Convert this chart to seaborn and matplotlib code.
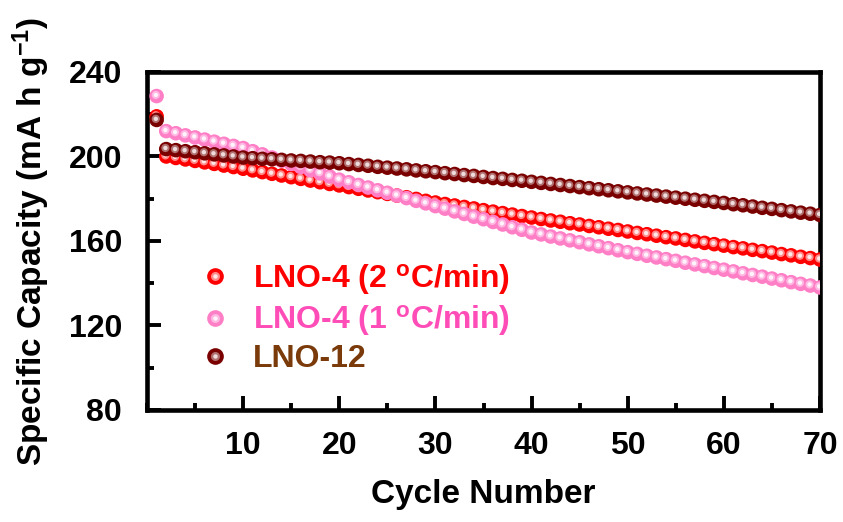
import matplotlib
matplotlib.use("Agg")
import matplotlib.pyplot as plt
import matplotlib.transforms as mtransforms
import seaborn as sns
import pandas as pd
from matplotlib.lines import Line2D
from matplotlib.legend_handler import HandlerTuple
from matplotlib.ticker import MultipleLocator

cycles = list(range(1, 71))

# LNO-4 (2 oC/min)
cap_lno4_2 = [219.0, 200.0,
              199.3, 198.6, 197.9, 197.2, 196.5, 195.7, 195.0, 194.2,
              193.4, 192.6, 191.8, 191.0, 190.2, 189.4, 188.6, 187.8, 187.0, 186.3,
              185.5, 184.7, 183.9, 183.1, 182.3, 181.5, 180.7, 179.9, 179.0, 178.2,
              177.5, 176.8, 176.1, 175.4, 174.6, 173.9, 173.2, 172.5, 171.8, 171.1,
              170.4, 169.7, 169.1, 168.4, 167.8, 167.1, 166.5, 165.8, 165.2, 164.5,
              163.8, 163.2, 162.5, 161.8, 161.2, 160.5, 159.8, 159.1, 158.5, 157.8,
              157.1, 156.5, 155.8, 155.2, 154.5, 153.8, 153.2, 152.5, 151.9, 151.2]

# LNO-4 (1 oC/min)
cap_lno4_1 = [228.6, 212.0,
              211.0, 210.0, 209.0, 208.0, 207.0, 206.0, 205.0, 204.0,
              202.5, 201.0, 199.5, 198.0, 196.5, 195.0, 193.5, 192.0, 190.5, 189.0,
              187.8, 186.5, 185.3, 184.0, 182.8, 181.5, 180.3, 179.0, 177.8, 176.5,
              175.3, 174.0, 172.8, 171.5, 170.3, 169.0, 167.8, 166.5, 165.3, 164.0,
              163.1, 162.1, 161.2, 160.3, 159.4, 158.4, 157.5, 156.6, 155.6, 154.7,
              153.9, 153.0, 152.2, 151.4, 150.6, 149.7, 148.9, 148.1, 147.2, 146.4,
              145.6, 144.7, 143.9, 143.1, 142.2, 141.4, 140.5, 139.7, 138.9, 138.0]

# LNO-12
cap_lno12 = [217.3, 203.5,
             203.0, 202.5, 202.0, 201.5, 201.0, 200.5, 200.0, 199.5,
             199.2, 198.9, 198.7, 198.4, 198.1, 197.9, 197.6, 197.3, 197.1, 196.8,
             196.4, 196.0, 195.6, 195.1, 194.7, 194.3, 193.9, 193.4, 193.0, 192.6,
             192.1, 191.7, 191.2, 190.8, 190.3, 189.8, 189.4, 188.9, 188.5, 188.0,
             187.5, 187.0, 186.5, 186.0, 185.5, 185.0, 184.5, 184.0, 183.5, 183.0,
             182.5, 182.0, 181.5, 181.0, 180.5, 180.0, 179.5, 179.0, 178.5, 178.0,
             177.4, 176.9, 176.3, 175.7, 175.2, 174.6, 174.0, 173.4, 172.9, 172.3]

labels = ["LNO-4 (2 $^{\\mathregular{o}}$C/min)", "LNO-4 (1 $^{\\mathregular{o}}$C/min)", "LNO-12"]
series = [cap_lno4_2, cap_lno4_1, cap_lno12]
# (body, halo, core) colours to fake the shaded-sphere markers
shades = [("#ff0000", "#ff8a8a", "#ffe8e8"),
          ("#ff7fc6", "#ffb8e2", "#fff4fb"),
          ("#7a0000", "#b07070", "#efdcdc")]
text_colors = ["#ff0000", "#ff4db8", "#7a3a0a"]

df = pd.concat([pd.DataFrame({"Cycle": cycles, "Capacity": s, "Sample": lab})
                for s, lab in zip(series, labels)], ignore_index=True)

sns.set_style("ticks")
plt.rcParams["font.family"] = ["Liberation Sans", "DejaVu Sans"]
plt.rcParams["font.weight"] = "bold"
plt.rcParams["mathtext.default"] = "regular"
for k in ["text.color", "axes.labelcolor", "xtick.color", "ytick.color", "axes.edgecolor"]:
    plt.rcParams[k] = "black"

fig = plt.figure(figsize=(8.43, 5.22), dpi=100)
ax = fig.add_axes([0.1744, 0.2146, 0.7983, 0.6475])

size = 110
# highlight layers sit slightly up-left of the ball centre
shift = mtransforms.offset_copy(ax.transData, fig=fig, x=-0.6, y=0.8, units="points")
for i in [0, 2, 1]:
    sub = df[df["Sample"] == labels[i]]
    body, mid, core = shades[i]
    for scale, col in [(1.0, body), (0.32, mid), (0.09, core)]:
        n0 = len(ax.collections)
        sns.scatterplot(data=sub, x="Cycle", y="Capacity", ax=ax, s=size * scale, color=col,
                        edgecolor="none", linewidth=0, legend=False)
        coll = ax.collections[n0]
        coll.set_zorder(3 + i)
        if scale < 1:
            coll.set_offset_transform(shift)

ax.set_xlim(0, 70)
ax.set_ylim(80, 240)
ax.xaxis.set_major_locator(MultipleLocator(10))
ax.xaxis.set_minor_locator(MultipleLocator(5))
ax.yaxis.set_major_locator(MultipleLocator(40))
ax.yaxis.set_minor_locator(MultipleLocator(20))
ax.set_xticks([10, 20, 30, 40, 50, 60, 70])

for sp in ax.spines.values():
    sp.set_linewidth(3.3)
ax.tick_params(which="major", direction="in", length=10, width=2.8, labelsize=23, pad=15)
ax.tick_params(which="minor", direction="in", length=5, width=2.8)
ax.tick_params(axis="y", which="major", pad=18)
for t in ax.get_xticklabels() + ax.get_yticklabels():
    t.set_fontweight("bold")

ax.set_xlabel("Cycle Number", fontsize=24, fontweight="bold", labelpad=13)
ax.set_ylabel("Specific Capacity (mA h g$^{\\mathregular{-1}}$)", fontsize=24,
              fontweight="bold", labelpad=12)

handles = []
for body, mid, core in shades:
    handles.append((Line2D([], [], ls="none", marker="o", ms=12, mfc=body, mec="none"),
                    Line2D([], [], ls="none", marker="o", ms=6.5, mfc=mid, mec="none"),
                    Line2D([], [], ls="none", marker="o", ms=3.2, mfc=core, mec="none")))
leg = ax.legend(handles, labels, handler_map={tuple: HandlerTuple(ndivide=1, pad=0)},
                loc="center left", bbox_to_anchor=(0.058, 0.272), borderaxespad=0,
                frameon=False, prop={"size": 23, "weight": "bold"}, handlelength=1.0,
                handletextpad=0.7, labelspacing=0.2)
for txt, c in zip(leg.get_texts(), text_colors):
    txt.set_color(c)

fig.savefig("out.png", dpi=100)
